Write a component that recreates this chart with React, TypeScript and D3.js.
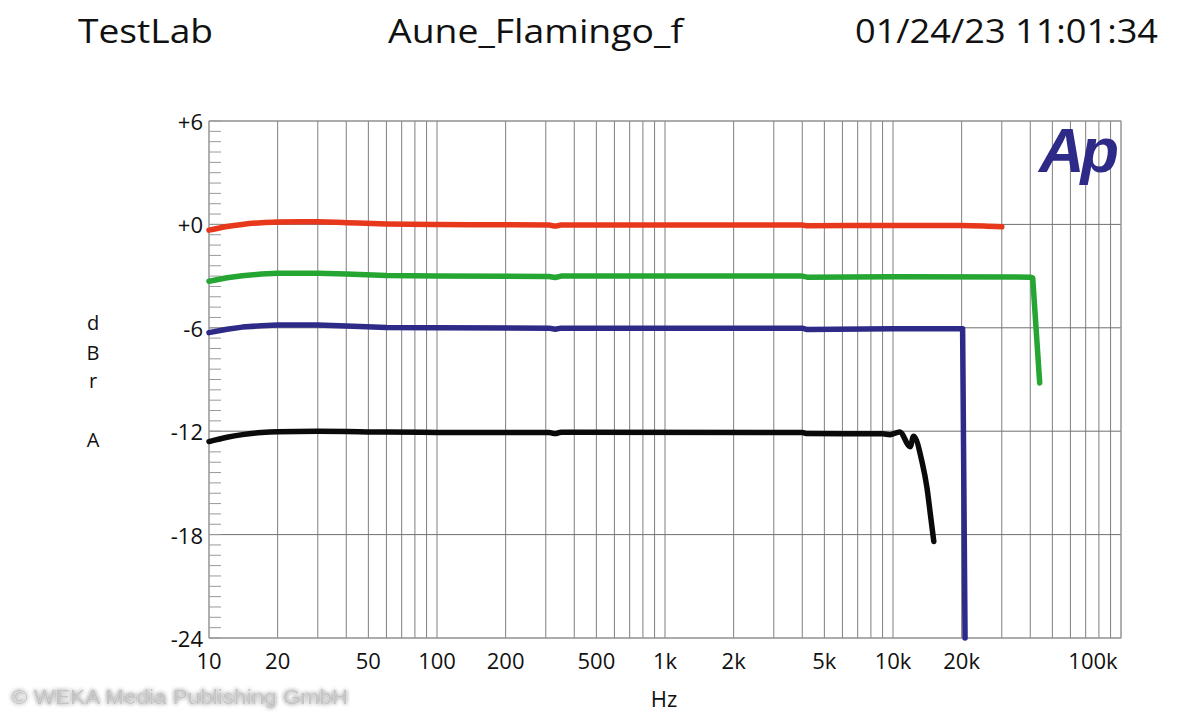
import React from "react";
import * as d3 from "d3";

// ---------- data ----------
const yTicks = [6, 0, -6, -12, -18, -24];
const yTickLabels = ["+6", "+0", "-6", "-12", "-18", "-24"];
const xTickValues = [10, 20, 50, 100, 200, 500, 1000, 2000, 5000, 10000, 20000, 100000];
const xTickLabels = ["10", "20", "50", "100", "200", "500", "1k", "2k", "5k", "10k", "20k", "100k"];

const redSeries: [number, number][] = [
  [10, -0.33], [12, -0.12], [14, 0.0], [17, 0.1], [20, 0.14], [25, 0.16], [30, 0.15], [40, 0.1],
  [60, 0.03], [100, -0.01], [200, -0.02], [310, -0.03], [330, -0.1], [350, -0.03], [1000, -0.03],
  [2000, -0.03], [4000, -0.03], [4200, -0.08], [10000, -0.06], [20000, -0.06], [25000, -0.09], [30000, -0.14],
];
const greenSeries: [number, number][] = [
  [10, -3.3], [12, -3.1], [14, -2.98], [17, -2.88], [20, -2.84], [30, -2.84], [40, -2.88], [60, -2.97],
  [100, -3.0], [310, -3.02], [330, -3.08], [350, -3.0], [4000, -3.0], [4200, -3.06], [10000, -3.04],
  [40000, -3.06], [41000, -3.1], [44000, -9.2],
];
const blueSeries: [number, number][] = [
  [10, -6.28], [12, -6.08], [14, -5.96], [17, -5.88], [20, -5.84], [30, -5.84], [40, -5.9], [60, -5.98],
  [100, -6.0], [310, -6.02], [330, -6.08], [350, -6.02], [4000, -6.02], [4200, -6.1], [10000, -6.05],
  [20200, -6.05], [20700, -24],
];
const blackSeries: [number, number][] = [
  [10, -12.6], [12, -12.35], [14, -12.2], [17, -12.08], [20, -12.03], [30, -12.0], [60, -12.05],
  [100, -12.07], [310, -12.08], [330, -12.14], [350, -12.06], [4000, -12.08], [4200, -12.14],
  [9000, -12.15], [9700, -12.2], [10700, -12.04], [11900, -12.9], [12300, -12.3], [13400, -13.77],
  [14100, -15.3], [14600, -16.87], [15100, -18.4],
];

const seriesList = [
  { name: "red", data: redSeries, color: "#e8381b" },
  { name: "green", data: greenSeries, color: "#25a531" },
  { name: "blue", data: blueSeries, color: "#2e2a88" },
  { name: "black", data: blackSeries, color: "#0a0a0a" },
];

// ---------- layout ----------
const W = 1200;
const H = 720;
const L = 209, R = 1121, T = 121, B = 638;

export default function App() {
  const x = d3.scaleLog().domain([10, 100000]).range([L, R]);
  const y = d3.scaleLinear().domain([-24, 6]).range([B, T]);

  const gridFreqs: number[] = [];
  for (let dec = 10; dec < 100000; dec *= 10) {
    for (let m = 1; m < 10; m++) gridFreqs.push(dec * m);
  }
  gridFreqs.push(100000);

  const minorY = d3.range(-24, 6.001, 0.6);

  const line = d3
    .line<[number, number]>()
    .x((d) => x(d[0]))
    .y((d) => y(d[1]))
    .curve(d3.curveMonotoneX);

  const lineLin = d3
    .line<[number, number]>()
    .x((d) => x(d[0]))
    .y((d) => y(d[1]));

  const font = "'Open Sans', 'DejaVu Sans', sans-serif";

  return (
    <div style={{ position: "fixed", left: 0, top: 0, width: W, height: H, background: "#fff" }}>
      <svg width={W} height={H} style={{ display: "block" }}>
        <defs>
          <filter id="glow" x="-10%" y="-50%" width="120%" height="200%">
            <feGaussianBlur in="SourceAlpha" stdDeviation="2" result="blur" />
            <feComponentTransfer in="blur" result="shadow">
              <feFuncA type="linear" slope="0.55" />
            </feComponentTransfer>
            <feMerge>
              <feMergeNode in="shadow" />
              <feMergeNode in="SourceGraphic" />
            </feMerge>
          </filter>
        </defs>
        <rect width={W} height={H} fill="#fff" />

        {/* titles */}
        <g fontFamily={font} fontSize={32} fill="#111">
          <text x={78} y={43} textLength={135} lengthAdjust="spacingAndGlyphs">TestLab</text>
          <text x={388} y={43} textLength={295} lengthAdjust="spacingAndGlyphs">Aune_Flamingo_f</text>
          <text x={855} y={43} textLength={303} lengthAdjust="spacingAndGlyphs">01/24/23 11:01:34</text>
        </g>

        {/* vertical grid */}
        {gridFreqs.map((f, i) => (
          <line key={"vg" + i} x1={x(f)} x2={x(f)} y1={T} y2={B} stroke="#5e5e5e" strokeWidth={1} opacity={0.8} />
        ))}
        {/* horizontal grid */}
        {yTicks.map((v, i) => (
          <line key={"hg" + i} x1={L} x2={R} y1={y(v)} y2={y(v)} stroke="#707070" strokeWidth={1} />
        ))}
        {/* minor y ticks */}
        {minorY.map((v, i) => (
          <line key={"mt" + i} x1={L} x2={L + 12} y1={y(v)} y2={y(v)} stroke="#9a9a9a" strokeWidth={1} />
        ))}
        {/* border */}
        <rect x={L} y={T} width={R - L} height={B - T} fill="none" stroke="#a0a0a0" strokeWidth={1} />

        {/* logo */}
        <text
          x={1039}
          y={172}
          fill="#2e2a88"
          fontFamily="'Liberation Sans', Arial, sans-serif"
          fontWeight="bold"
          fontStyle="italic"
          fontSize={63}
          letterSpacing={-4}
        >
          Ap
        </text>

        {/* series */}
        {seriesList.map((s) => (
          <path
            key={s.name}
            d={(s.name === "blue" || s.name === "green" ? lineLin : line)(s.data) || ""}
            fill="none"
            stroke={s.color}
            strokeWidth={5.5}
            strokeLinejoin="round"
            strokeLinecap="round"
          />
        ))}

        {/* y tick labels */}
        <g fontFamily={font} fontSize={22} fill="#111" textAnchor="end">
          {yTicks.map((v, i) => (
            <text key={"yl" + i} x={203} y={y(v) + 9}>{yTickLabels[i]}</text>
          ))}
        </g>
        {/* x tick labels */}
        <g fontFamily={font} fontSize={22} fill="#111" textAnchor="middle">
          {xTickValues.map((v, i) => (
            <text key={"xl" + i} x={x(v) + (v === 100000 ? -28 : 0)} y={669}>{xTickLabels[i]}</text>
          ))}
        </g>
        {/* axis titles */}
        <text x={664} y={707} fontFamily={font} fontSize={22} fill="#111" textAnchor="middle">Hz</text>
        <g fontFamily={font} fontSize={20} fill="#111" textAnchor="middle">
          <text x={93} y={330}>d</text>
          <text x={93} y={360}>B</text>
          <text x={93} y={388}>r</text>
          <text x={93} y={447}>A</text>
        </g>

        {/* copyright */}
        <text
          x={11}
          y={704}
          fontFamily="'Liberation Sans', Arial, sans-serif"
          fontSize={20}
          fill="#c4c4c4"
          filter="url(#glow)"
          textLength={337}
          lengthAdjust="spacingAndGlyphs"
        >
          © WEKA Media Publishing GmbH
        </text>
      </svg>
    </div>
  );
}
